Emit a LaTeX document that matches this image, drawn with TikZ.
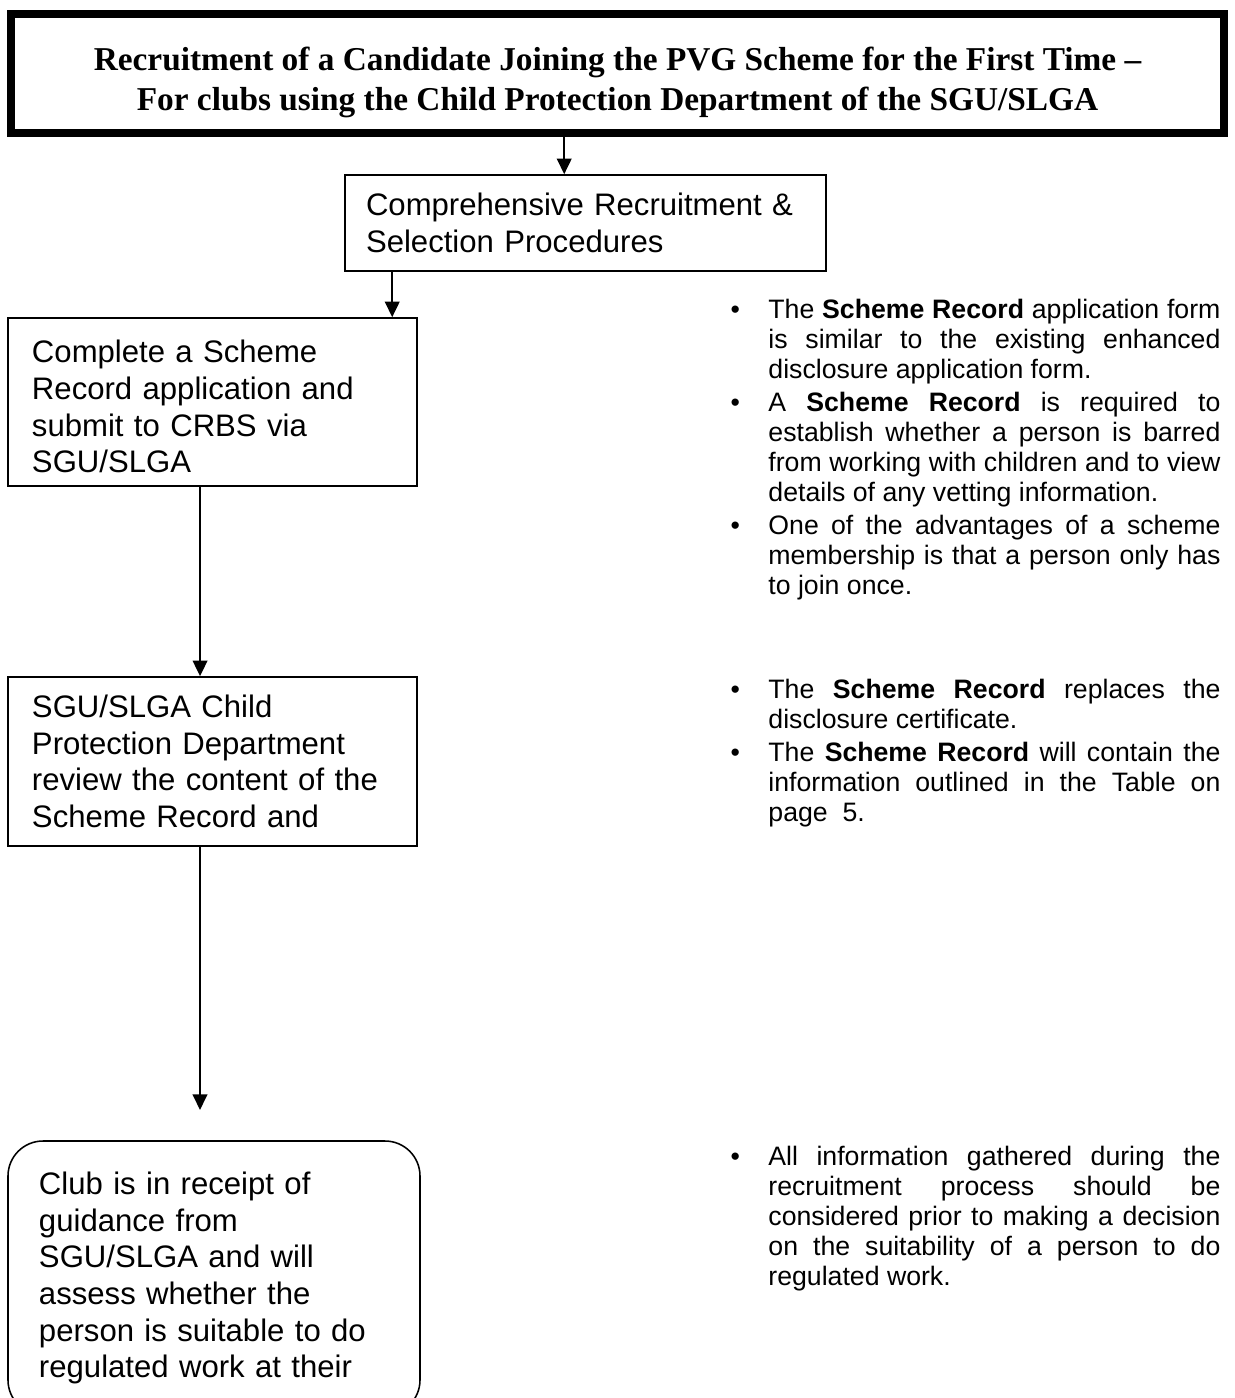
\documentclass[tikz,border=0pt]{standalone}
\usepackage{fontspec}
\setmainfont{Liberation Sans}
\newfontfamily\titlefont{Liberation Serif}
\usetikzlibrary{arrows.meta}

\newlength{\bulind}
\setlength{\bulind}{17.55pt}
% one bullet point with hanging indent
\newcommand{\bul}[1]{\noindent\tolerance=10000 \hyphenpenalty=10000
  \hangindent=\bulind\hangafter=1
  \hbox to\bulind{\hskip 0.5pt\textbullet\hfil}#1\par\vskip 1.35pt}

\begin{document}
\begin{tikzpicture}[x=0.45pt, y=-0.45pt,
frame/.style={draw, line width=3.6pt, minimum width=545.85pt, minimum height=53.55pt,
  inner sep=0pt, align=center, font=\titlefont\bfseries\fontsize{15pt}{18pt}\selectfont},
stage/.style={draw, line width=0.7pt, inner sep=0pt, align=left,
  font=\fontsize{14pt}{16.5pt}\selectfont},
arr/.style={-{Triangle[length=7pt, width=6.5pt]}, line width=1pt},
note/.style={inner sep=0pt, text width=220.95pt, align=justify, anchor=base west,
  font=\fontsize{12pt}{13.5pt}\selectfont}]
\useasboundingbox (0,0) rectangle (1235,1398);
\clip (0,0) rectangle (1235,1398);

\node[frame] (title) at (617.5,73.5) {\rule{0pt}{18.5pt}Recruitment of a Candidate Joining the PVG Scheme for the First Time –\\For clubs using the Child Protection Department of the SGU/SLGA};

\node[stage, minimum width=216.45pt, minimum height=43.2pt, text width=197.55pt] (procs) at (585.5,223)
  {Comprehensive Recruitment \&\\Selection Procedures};
\node[stage, minimum width=184.05pt, minimum height=75.6pt, text width=162.45pt] (form) at (212.5,402)
  {\rule{0pt}{14.5pt}Complete a Scheme\\Record application and\\submit to CRBS via\\SGU/SLGA};
\node[stage, minimum width=184.05pt, minimum height=76.05pt, text width=162.45pt] (review) at (212.5,761.5)
  {SGU/SLGA Child\\Protection Department\\review the content of the\\Scheme Record and};
\node[stage, rounded corners=15.75pt, minimum width=185.4pt, minimum height=123.3pt, text width=157.5pt] (club) at (214,1278)
  {Club is in receipt of\\guidance from\\SGU/SLGA and will\\assess whether the\\person is suitable to do\\regulated work at their};

% connectors
\path ([xshift=99pt]procs.north west) coordinate (in1);
\draw[arr] (title.south -| in1) -- (in1);
\path ([xshift=21.6pt]procs.south west) coordinate (out2);
\draw[arr] (out2) -- (out2 |- form.north);
\path ([xshift=-5.6pt]form.south) coordinate (out3);
\draw[arr] (out3) -- (out3 |- review.north);
\coordinate (gap) at (200,1110);
\draw[arr] (review.south -| gap) -- (gap);

% notes on the right
\node[note] (notea) at (729,318) {%
\bul{The \textbf{Scheme Record} application form\linebreak is similar to the existing enhanced\linebreak disclosure application form.}%
\bul{A \textbf{Scheme Record} is required to\linebreak establish whether a person is barred\linebreak from working with children and to view\linebreak details of any vetting information.}%
\bul{One of the advantages of a scheme\linebreak membership is that a person only has\linebreak to join once.}};
\node[note] (noteb) at (729,698) {%
\bul{The \textbf{Scheme Record} replaces the\linebreak disclosure certificate.}%
\bul{The \textbf{Scheme Record} will contain the\linebreak information outlined in the Table on\linebreak page~~5.}};
\node[note] (notec) at (729,1165) {%
\bul{All information gathered during the\linebreak recruitment process should be\linebreak considered prior to making a decision\linebreak on the suitability of a person to do\linebreak regulated work.}};
\end{tikzpicture}
\end{document}
